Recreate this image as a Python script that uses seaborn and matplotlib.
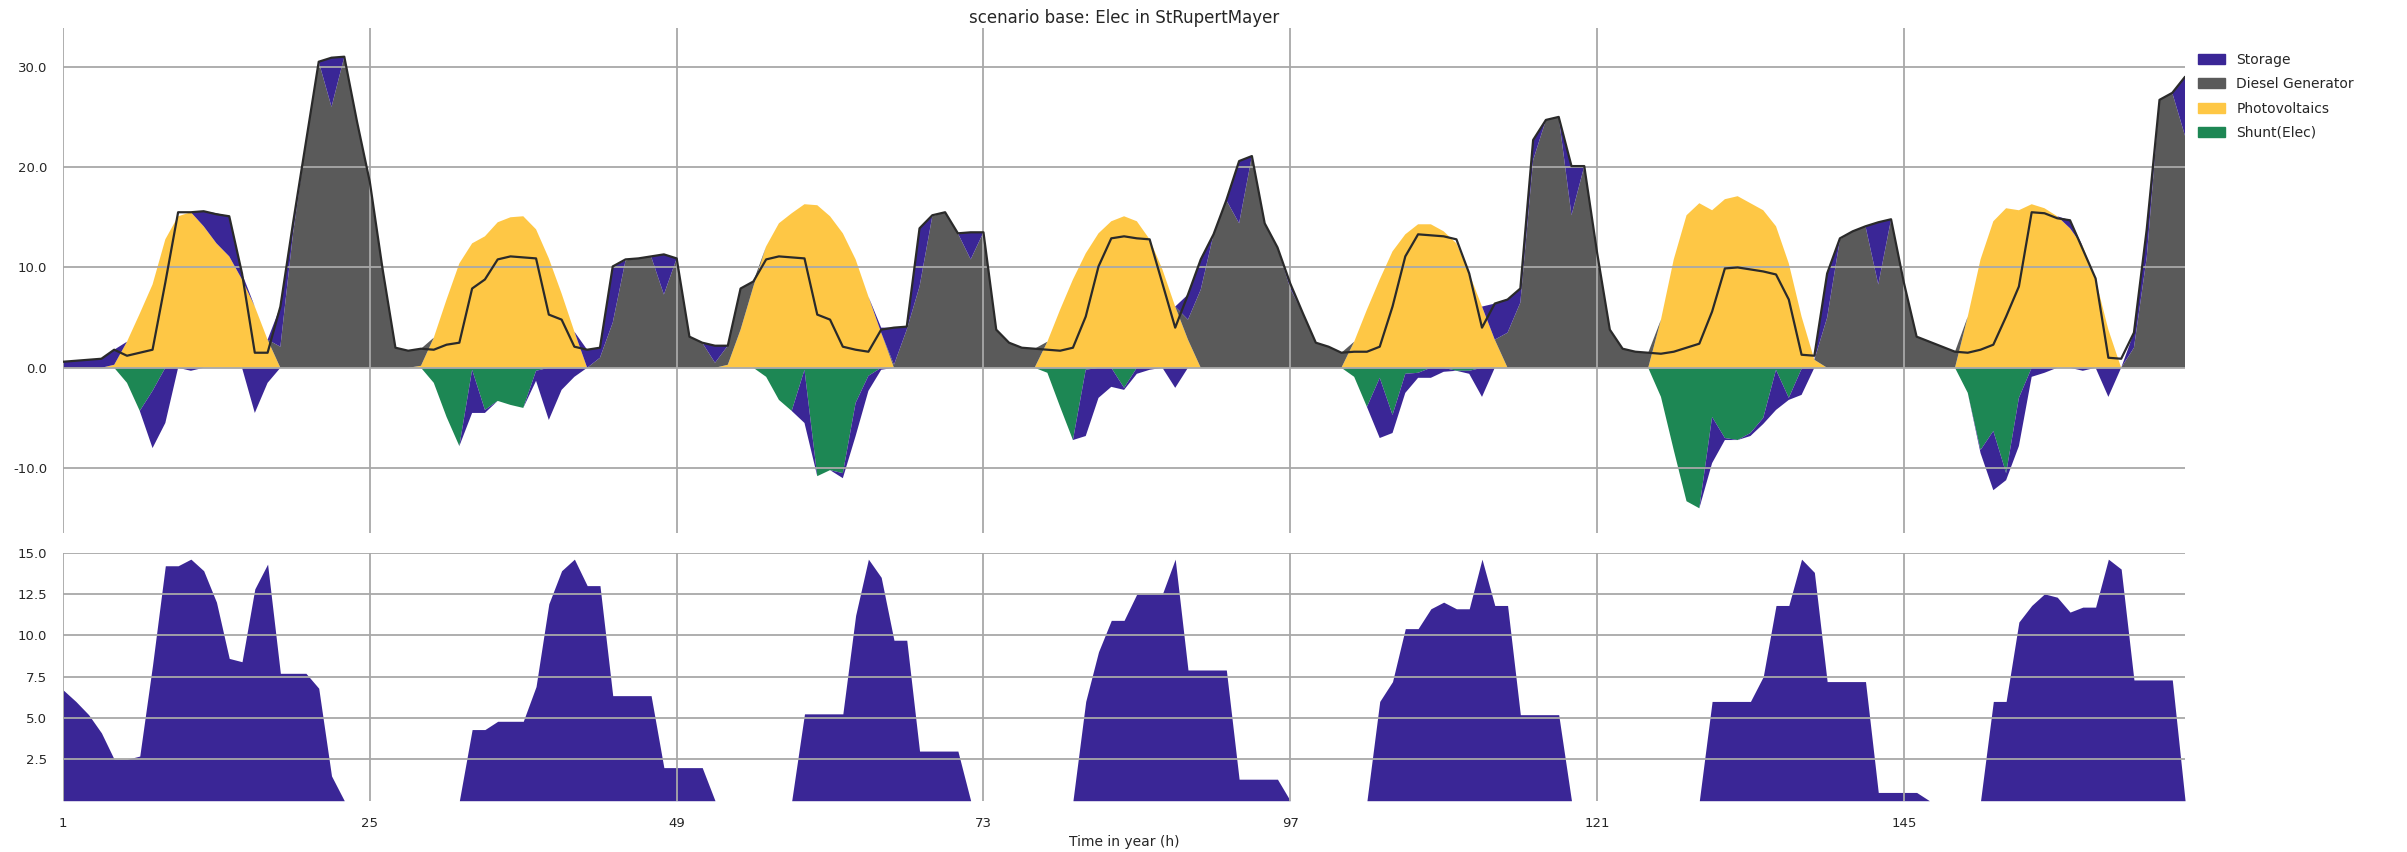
import numpy as np
import matplotlib
matplotlib.use("Agg")
import matplotlib.pyplot as plt
from matplotlib.patches import Patch
from matplotlib.ticker import FormatStrFormatter
import seaborn as sns

# hourly values, hours 1..167
hours = np.arange(1, 168)

photovoltaics = [
    0, 0, 0, 0, 0.3, 2.6, 5.4, 8.3, 12.8, 15.1, 15.5, 14.1, 12.4, 11.1, 8.8, 6.1, 2.8, 0, 0, 0, 0, 0, 0, 0,
    0, 0, 0, 0, 0.2, 3.0, 6.8, 10.4, 12.4, 13.1, 14.5, 15.0, 15.1, 13.8, 10.9, 7.4, 3.6, 0, 0, 0, 0, 0, 0, 0,
    0, 0, 0, 0, 0.3, 3.8, 8.1, 12.1, 14.4, 15.4, 16.3, 16.2, 15.1, 13.4, 10.8, 7.1, 3.5, 0, 0, 0, 0, 0, 0, 0,
    0, 0, 0, 0, 0, 2.6, 5.8, 8.8, 11.4, 13.4, 14.6, 15.1, 14.6, 12.8, 9.8, 6.1, 2.8, 0, 0, 0, 0, 0, 0, 0,
    0, 0, 0, 0, 0, 2.6, 5.8, 8.8, 11.6, 13.3, 14.3, 14.3, 13.6, 12.4, 9.4, 6.1, 2.8, 0, 0, 0, 0, 0, 0, 0,
    0, 0, 0, 0, 0, 4.8, 10.8, 15.2, 16.4, 15.7, 16.8, 17.1, 16.4, 15.7, 14.1, 10.4, 5.1, 0.8, 0, 0, 0, 0, 0, 0,
    0, 0, 0, 0, 0, 5.1, 10.8, 14.6, 15.9, 15.7, 16.3, 15.9, 15.1, 13.9, 12.1, 8.8, 3.8, 0, 0, 0, 0, 0, 0,
]

diesel = [
    0, 0, 0, 0, 0, 0, 0, 0, 0, 0, 0, 0, 0, 0, 0, 0, 0, 2.1, 13.5, 22.5, 30.5, 26.0, 31.0, 24.5,
    18.5, 9.8, 2.0, 1.7, 1.7, 0, 0, 0, 0, 0, 0, 0, 0, 0, 0, 0, 0, 0, 1.0, 4.5, 10.7, 10.9, 11.1, 7.3,
    10.9, 3.1, 2.5, 0.5, 1.9, 4.1, 0.5, 0, 0, 0, 0, 0, 0, 0, 0, 0, 0, 0.3, 3.8, 8.1, 15.1, 15.5, 13.4, 10.8,
    13.5, 3.8, 2.5, 2.0, 1.9, 0, 0, 0, 0, 0, 0, 0, 0, 0, 0, 0, 2.0, 7.8, 13.3, 16.7, 14.4, 21.1, 14.4, 12.0,
    7.9, 5.4, 2.5, 2.1, 1.5, 0, 0, 0, 0, 0, 0, 0, 0, 0, 0, 0, 0, 3.5, 6.5, 20.7, 24.7, 25.0, 15.2, 20.1,
    11.5, 3.8, 1.9, 1.6, 1.5, 0, 0, 0, 0, 0, 0, 0, 0, 0, 0, 0, 0, 0, 5.0, 12.8, 13.6, 14.1, 8.3, 14.8,
    8.5, 3.1, 2.6, 2.1, 1.6, 0, 0, 0, 0, 0, 0, 0, 0, 0, 0, 0, 0, 0, 2.0, 11.0, 26.7, 27.4, 23.1,
]

storage_discharge = [
    0.6, 0.7, 0.8, 0.9, 1.5, 0, 0, 0, 0, 0, 0, 1.5, 3.0, 4.0, 0.6, 0, 0, 4.0, 1.0, 0, 0, 4.9, 0, 0,
    0, 0, 0, 0, 0, 0, 0, 0, 0, 0, 0, 0, 0, 0, 0, 0, 0, 1.8, 1.0, 5.6, 0, 0, 0, 4.0,
    0, 0, 0, 1.7, 0, 0, 0, 0, 0, 0, 0, 0, 0, 0, 0, 0, 0.5, 3.7, 0.3, 5.8, 0, 0, 0, 2.7,
    0, 0, 0, 0, 0, 0, 0, 0, 0, 0, 0, 0, 0, 0, 0, 0, 2.5, 3.0, 0, 0, 6.2, 0, 0, 0,
    0.5, 0, 0, 0, 0, 0, 0, 0, 0, 0, 0, 0, 0, 0, 0, 0, 3.6, 3.3, 1.4, 2.0, 0, 0, 4.9, 0,
    0, 0, 0, 0, 0, 0, 0, 0, 0, 0, 0, 0, 0, 0, 0, 0, 0, 0, 4.4, 0, 0, 0, 6.2, 0,
    0, 0, 0, 0, 0, 0, 0, 0, 0, 0, 0, 0, 0, 0.8, 0, 0, 0, 0, 1.5, 2.8, 0, 0, 5.9,
]

storage_charge = [
    0, 0, 0, 0, 0, 0, 0, -5.7, -5.5, 0, -0.3, 0, 0, 0, 0, -4.5, -1.5, 0, 0, 0, 0, 0, 0, 0,
    0, 0, 0, 0, 0, 0, 0, 0, -4.3, -0.3, 0, 0, 0, -1.0, -5.2, -2.2, -0.9, 0, 0, 0, 0, 0, 0, 0,
    0, 0, 0, 0, 0, 0, 0, 0, 0, 0, -5.3, 0, 0, -0.5, -3.3, -1.5, -0.2, 0, 0, 0, 0, 0, 0, 0,
    0, 0, 0, 0, 0, 0, 0, 0, -6.6, -3.0, -1.9, -0.2, -0.6, -0.2, 0, -2.0, 0, 0, 0, 0, 0, 0, 0, 0,
    0, 0, 0, 0, 0, 0, 0, -6.0, -1.8, -1.9, -0.5, -1.0, -0.4, 0, -0.3, -2.9, 0, 0, 0, 0, 0, 0, 0, 0,
    0, 0, 0, 0, 0, 0, 0, 0, 0, -4.6, -0.2, 0, -0.3, -0.6, -4.0, -0.2, -2.6, 0, 0, 0, 0, 0, 0, 0,
    0, 0, 0, 0, 0, 0, -0.3, -5.9, -0.7, -4.8, -0.9, -0.5, 0, 0, -0.3, 0, -2.9, 0, 0, 0, 0, 0, 0,
]

shunt = [
    0, 0, 0, 0, 0, -1.5, -4.3, -2.3, 0, 0, 0, 0, 0, 0, 0, 0, 0, 0, 0, 0, 0, 0, 0, 0,
    0, 0, 0, 0, 0, -1.5, -4.9, -7.8, -0.2, -4.2, -3.3, -3.7, -4.0, -0.3, 0, 0, 0, 0, 0, 0, 0, 0, 0, 0,
    0, 0, 0, 0, 0, 0, 0, -0.9, -3.2, -4.3, -0.2, -10.8, -10.2, -10.5, -3.5, -0.8, 0, 0, 0, 0, 0, 0, 0, 0,
    0, 0, 0, 0, 0, -0.5, -3.9, -7.2, -0.2, 0, 0, -2.0, 0, 0, 0, 0, 0, 0, 0, 0, 0, 0, 0, 0,
    0, 0, 0, 0, 0, -0.9, -3.9, -1.0, -4.7, -0.6, -0.5, 0, 0, -0.3, -0.3, 0, 0, 0, 0, 0, 0, 0, 0, 0,
    0, 0, 0, 0, 0, -2.9, -8.2, -13.3, -14.0, -4.9, -7.0, -7.2, -6.5, -5.0, -0.2, -3.0, -0.1, 0, 0, 0, 0, 0, 0, 0,
    0, 0, 0, 0, 0, -2.5, -8.2, -6.3, -10.5, -3.0, 0, 0, 0, 0, 0, 0, 0, 0, 0, 0, 0, 0, 0,
]

demand = [
    0.6, 0.7, 0.8, 0.9, 1.8, 1.2, 1.5, 1.8, 8.5, 15.5, 15.5, 15.6, 15.3, 15.1, 9.4, 1.5, 1.5, 6.1, 14.5, 22.5, 30.5, 30.9, 31.0, 24.5,
    18.5, 9.8, 2.0, 1.7, 1.9, 1.8, 2.3, 2.5, 7.9, 8.8, 10.8, 11.1, 11.0, 10.9, 5.3, 4.8, 2.1, 1.8, 2.0, 10.1, 10.8, 10.9, 11.1, 11.3,
    10.9, 3.1, 2.5, 2.2, 2.2, 7.9, 8.6, 10.8, 11.1, 11.0, 10.9, 5.3, 4.8, 2.1, 1.8, 1.6, 3.8, 4.0, 4.1, 13.9, 15.2, 15.5, 13.4, 13.5,
    13.5, 3.8, 2.5, 2.0, 1.9, 1.8, 1.7, 2.0, 5.1, 10.1, 12.9, 13.1, 12.9, 12.8, 8.4, 4.0, 7.3, 10.8, 13.3, 16.7, 20.6, 21.1, 14.4, 12.0,
    8.4, 5.4, 2.5, 2.1, 1.5, 1.6, 1.6, 2.1, 6.1, 11.1, 13.3, 13.2, 13.1, 12.8, 9.4, 4.0, 6.4, 6.8, 7.9, 22.7, 24.7, 25.0, 20.1, 20.1,
    11.5, 3.8, 1.9, 1.6, 1.5, 1.4, 1.6, 2.0, 2.4, 5.6, 9.9, 10.0, 9.8, 9.6, 9.3, 6.8, 1.3, 1.2, 9.4, 12.9, 13.6, 14.1, 14.5, 14.8,
    8.5, 3.1, 2.6, 2.1, 1.6, 1.5, 1.8, 2.3, 5.1, 8.1, 15.5, 15.4, 14.9, 14.7, 11.8, 8.9, 1.0, 0.9, 3.5, 13.8, 26.7, 27.4, 29.0,
]

storage_level = [
    6.7, 6.0, 5.2, 4.1, 2.5, 2.5, 2.7, 8.2, 14.2, 14.2, 14.6, 13.9, 12.0, 8.6, 8.4, 12.8, 14.3, 7.7, 7.7, 7.7, 6.8, 1.5, 0, 0,
    0, 0, 0, 0, 0, 0, 0, 0, 4.3, 4.3, 4.8, 4.8, 4.8, 6.9, 11.9, 13.9, 14.6, 13.0, 13.0, 6.35, 6.35, 6.35, 6.35, 2.0,
    2.0, 2.0, 2.0, 0, 0, 0, 0, 0, 0, 0, 5.25, 5.25, 5.25, 5.25, 11.2, 14.6, 13.5, 9.7, 9.7, 3.0, 3.0, 3.0, 3.0, 0,
    0, 0, 0, 0, 0, 0, 0, 0, 6.0, 9.0, 10.9, 10.9, 12.5, 12.5, 12.5, 14.6, 7.9, 7.9, 7.9, 7.9, 1.3, 1.3, 1.3, 1.3,
    0, 0, 0, 0, 0, 0, 0, 6.0, 7.2, 10.4, 10.4, 11.6, 12.0, 11.6, 11.6, 14.6, 11.8, 11.8, 5.2, 5.2, 5.2, 5.2, 0, 0,
    0, 0, 0, 0, 0, 0, 0, 0, 0, 6.0, 6.0, 6.0, 6.0, 7.5, 11.8, 11.8, 14.6, 13.8, 7.2, 7.2, 7.2, 7.2, 0.5, 0.5,
    0.5, 0.5, 0, 0, 0, 0, 0, 6.0, 6.0, 10.8, 11.8, 12.5, 12.3, 11.4, 11.7, 11.7, 14.6, 14.0, 7.3, 7.3, 7.3, 7.3, 0,
]

x_ticks = [1, 25, 49, 73, 97, 121, 145]
top_yticks = [-10, 0, 10, 20, 30]
bottom_yticks = [2.5, 5.0, 7.5, 10.0, 12.5, 15.0]

c_storage = "#3a2696"
c_diesel = "#5a5a5a"
c_pv = "#fec745"
c_shunt = "#1d8754"

sns.set_style("whitegrid")
plt.rcParams["font.family"] = ["DejaVu Sans"]

fig = plt.figure(figsize=(24.07, 8.52), dpi=100)
ax1 = fig.add_axes([0.0262, 0.374, 0.8816, 0.5936])
ax2 = fig.add_axes([0.0262, 0.0602, 0.8816, 0.2913], sharex=ax1)

# positive stack: PV, diesel, storage discharge
base = np.zeros(len(hours))
for vals, col in [(photovoltaics, c_pv), (diesel, c_diesel), (storage_discharge, c_storage)]:
    top = base + np.array(vals)
    ax1.fill_between(hours, base, top, where=top > base, interpolate=True,
                     facecolor=col, lw=0, zorder=1)
    base = top

# negative stack: shunt, storage charge
base = np.zeros(len(hours))
for vals, col in [(shunt, c_shunt), (storage_charge, c_storage)]:
    top = base + np.array(vals)
    ax1.fill_between(hours, base, top, where=top < base, interpolate=True,
                     facecolor=col, lw=0, zorder=1)
    base = top

sns.lineplot(x=hours, y=demand, ax=ax1, color="#2a2a2a", lw=1.6, zorder=3)

ax2.fill_between(hours, 0, storage_level, facecolor=c_storage, lw=0, zorder=1)

for ax in (ax1, ax2):
    ax.set_axisbelow(False)
    ax.grid(True, color="#a8a8a8", lw=1.3)
    ax.tick_params(labelsize=9.5, pad=8)
    sns.despine(ax=ax, left=True, bottom=True)

ax1.set_xlim(1, 167)
ax1.set_xticks(x_ticks)
ax1.set_ylim(-16.5, 33.9)
ax1.set_yticks(top_yticks)
ax1.yaxis.set_major_formatter(FormatStrFormatter("%.1f"))
plt.setp(ax1.get_xticklabels(), visible=False)
ax1.set_title("scenario base: Elec in StRupertMayer", fontsize=12, pad=3)

ax2.set_ylim(0, 15.0)
ax2.set_yticks(bottom_yticks)
ax2.yaxis.set_major_formatter(FormatStrFormatter("%.1f"))
ax2.set_xlabel("Time in year (h)", fontsize=10, labelpad=4)

handles = [
    Patch(color=c_storage, label="Storage"),
    Patch(color=c_diesel, label="Diesel Generator"),
    Patch(color=c_pv, label="Photovoltaics"),
    Patch(color=c_shunt, label="Shunt(Elec)"),
]
ax1.legend(handles=handles, loc="upper left", bbox_to_anchor=(1.0, 0.975),
           frameon=False, fontsize=10, labelspacing=0.75)

fig.savefig("out.png", dpi=100)
